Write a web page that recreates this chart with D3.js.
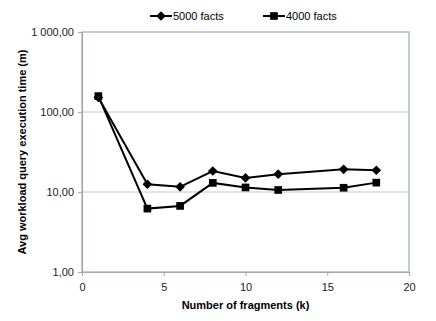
<!DOCTYPE html>
<html>
<head>
<meta charset="utf-8">
<style>
  body { margin: 0; background: #fff; }
  text { font-family: "Liberation Sans", Arial, sans-serif; }
</style>
</head>
<body>
<svg id="container" width="436" height="321"></svg>

<script src="https://d3js.org/d3.v7.min.js"></script>
<script>
  // fragment counts and average query times (minutes), log scale
  const fragments = [1, 4, 6, 8, 10, 12, 16, 18]
  const facts5000 = [152, 12.5, 11.6, 18.3, 15.0, 16.7, 19.2, 18.7]
  const facts4000 = [158, 6.2, 6.7, 13.0, 11.4, 10.6, 11.3, 13.1]
  const yTicks = [1, 10, 100, 1000]
  const xTicks = [0, 5, 10, 15, 20]
  const seriesNames = ['5000 facts', '4000 facts']

  const svg = d3.select('#container')
  const m = { left: 82, right: 409, top: 32, bottom: 272 }

  const x = d3.scaleLinear().domain([0, 20]).range([m.left, m.right])
  const y = d3.scaleLog().domain([1, 1000]).range([m.bottom, m.top])

  const fmt = v => v === 1000 ? '1 000,00' : d3.format('.2f')(v).replace('.', ',')

  // gridlines
  svg.append('g')
    .selectAll('line')
    .data(yTicks.slice(1, -1))
    .join('line')
    .attr('x1', m.left).attr('x2', m.right)
    .attr('y1', d => y(d)).attr('y2', d => y(d))
    .attr('stroke', '#c8c8c8')
    .attr('stroke-width', 1)

  // plot frame
  svg.append('rect')
    .attr('x', m.left).attr('y', m.top)
    .attr('width', m.right - m.left).attr('height', m.bottom - m.top)
    .attr('fill', 'none')
    .attr('stroke', '#9aabb3')
    .attr('stroke-width', 1.2)

  // axes
  const yAxis = svg.append('g')
    .attr('transform', `translate(${m.left},0)`)
    .call(d3.axisLeft(y).tickValues(yTicks).tickFormat(fmt).tickSize(4).tickPadding(4))
  const xAxis = svg.append('g')
    .attr('transform', `translate(0,${m.bottom})`)
    .call(d3.axisBottom(x).tickValues(xTicks).tickSize(4).tickPadding(7))

  ;[yAxis, xAxis].forEach(a => {
    a.select('.domain').attr('stroke', '#9aabb3').attr('stroke-width', 1.2)
    a.selectAll('.tick line').attr('stroke', '#9aabb3')
    a.selectAll('text').attr('font-size', 11).attr('fill', '#222')
      .style('font-family', '"Liberation Sans", Arial, sans-serif')
  })

  // axis titles
  svg.append('text')
    .attr('x', (m.left + m.right) / 2).attr('y', 309)
    .attr('text-anchor', 'middle')
    .attr('font-size', 11).attr('font-weight', 'bold')
    .text('Number of fragments (k)')

  svg.append('text')
    .attr('transform', `translate(26,${(m.top + m.bottom) / 2}) rotate(-90)`)
    .attr('text-anchor', 'middle')
    .attr('font-size', 11).attr('font-weight', 'bold')
    .text('Avg workload query execution time (m)')

  const line = d3.line()
    .x((d, i) => x(fragments[i]))
    .y(d => y(d))

  const diamond = d3.symbol().type(d3.symbolDiamond2).size(60)
  const square = d3.symbol().type(d3.symbolSquare2).size(75)

  const series = [
    { name: seriesNames[0], values: facts5000, sym: diamond },
    { name: seriesNames[1], values: facts4000, sym: square }
  ]

  series.forEach(s => {
    svg.append('path')
      .datum(s.values)
      .attr('d', line)
      .attr('fill', 'none')
      .attr('stroke', '#000')
      .attr('stroke-width', 2)

    svg.append('g')
      .selectAll('path')
      .data(s.values)
      .join('path')
      .attr('d', s.sym)
      .attr('transform', (d, i) => `translate(${x(fragments[i])},${y(d)})`)
      .attr('fill', '#000')
  })

  // legend
  const legendX = [150, 263]
  series.forEach((s, i) => {
    const g = svg.append('g').attr('transform', `translate(${legendX[i]},16)`)
    g.append('line')
      .attr('x1', 0).attr('x2', 22)
      .attr('stroke', '#000').attr('stroke-width', 2)
    g.append('path')
      .attr('d', s.sym)
      .attr('transform', 'translate(11,0)')
      .attr('fill', '#000')
    g.append('text')
      .attr('x', 23).attr('y', 4)
      .attr('font-size', 11)
      .text(s.name)
  })
</script>
</body>
</html>
